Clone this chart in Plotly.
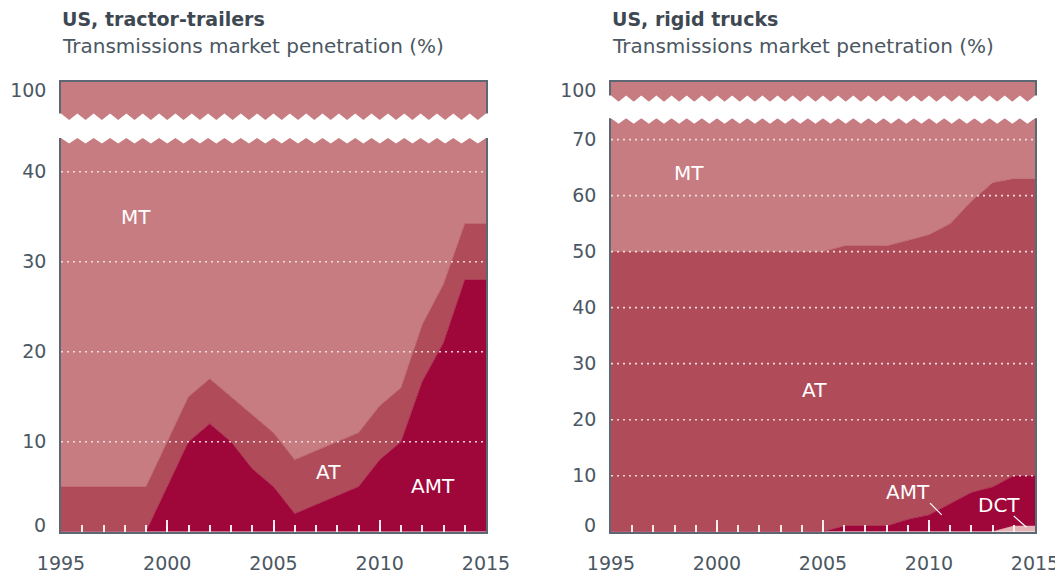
import plotly.graph_objects as go

# ---------------- data ----------------
years = list(range(1995, 2016))

# US, tractor-trailers: market share (%)
tt_amt = [0, 0, 0, 0, 0, 5, 10, 12, 10, 7, 5, 2, 3, 4, 5, 8, 10, 16.7, 21, 28, 28]
tt_at = [5, 5, 5, 5, 5, 5, 5, 5, 5, 6, 6, 6, 6, 6, 6, 6, 6, 6.3, 6.5, 6.2, 6.2]
tt_mt = [95, 95, 95, 95, 95, 90, 85, 83, 85, 87, 89, 92, 91, 90, 89, 86, 84, 77, 72.5, 65.8, 65.8]

# US, rigid trucks: market share (%)
rt_dct = [0] * 19 + [1, 1]
rt_amt = [0] * 11 + [1, 1, 1, 2.2, 3, 5, 7, 8, 9, 9]
rt_at = [50] * 11 + [50, 50, 50, 49.8, 50, 50, 52, 54.3, 53, 53]
rt_mt = [50] * 11 + [49, 49, 49, 48, 47, 45, 41, 37.7, 37, 37]

x_ticks = [1995, 2000, 2005, 2010, 2015]
tt_yticks = [10, 20, 30, 40]
rt_yticks = [10, 20, 30, 40, 50, 60, 70]

titles = ["US, tractor-trailers", "US, rigid trucks"]
subtitle = "Transmissions market penetration (%)"

# ---------------- style ----------------
C_MT = "#C67C80"
C_AT = "#B04B5A"
C_AMT = "#9F063A"
C_DCT = "#E4B3B6"
GRAY = "#5C6873"
TXT = "#4B5762"
TITLE = "#3E4852"
GRID = "rgba(246,226,228,0.95)"
FONT = "DejaVu Sans"

# the page body adds an 8px offset; the figure fills the rest of the window
OFF = 8
W, H = 1063 - OFF, 576 - OFF


def fx(px):
    return (px - OFF) / W


def fy(py):
    return 1 - (py - OFF) / H


fig = go.Figure()


def add_stack(series, xa, ya, grp):
    for name, vals, col in series:
        fig.add_trace(go.Scatter(
            x=years, y=vals, name=name, mode="lines",
            line=dict(width=0.6, color=col), fillcolor=col,
            stackgroup=grp, xaxis=xa, yaxis=ya, showlegend=False,
            hoverinfo="x+y+name"))


tt_series = [("AMT", tt_amt, C_AMT), ("AT", tt_at, C_AT), ("MT", tt_mt, C_MT)]
rt_series = [("DCT", rt_dct, C_DCT), ("AMT", rt_amt, C_AMT), ("AT", rt_at, C_AT), ("MT", rt_mt, C_MT)]

add_stack(tt_series, "x", "y", "a")     # left, lower
add_stack(tt_series, "x2", "y2", "b")   # left, upper
add_stack(rt_series, "x3", "y3", "c")   # right, lower
add_stack(rt_series, "x4", "y4", "d")   # right, upper

L = (61, 486)
R = (611, 1035)
y0_px = 531.7
tt_ppu = 9.0
rt_ppu = 5.601

tt_low_top = 138
tt_up_bot = 120
rt_low_top = 118.3
rt_up_bot = 101.7
top_px = 81.7

tick_font = dict(family=FONT, size=19, color=TXT)


def xaxis_bottom(dom):
    return dict(domain=[fx(dom[0]), fx(dom[1])], range=[1995, 2015], automargin=False,
                showline=True, linecolor=GRAY, linewidth=1.6,
                showgrid=False, zeroline=False,
                tickvals=x_ticks, ticks="inside", ticklen=12, tickwidth=1.6,
                tickcolor="rgba(255,242,242,0.95)",
                minor=dict(dtick=1, tick0=1995, ticks="inside", ticklen=7,
                           tickwidth=1.6, tickcolor="rgba(255,242,242,0.95)", showgrid=False),
                tickfont=tick_font, ticklabelstandoff=14, layer="above traces",
                fixedrange=True)


def xaxis_top(dom):
    return dict(domain=[fx(dom[0]), fx(dom[1])], range=[1995, 2015], side="top",
                automargin=False, showline=True, linecolor=GRAY, linewidth=1.6,
                showgrid=False, zeroline=False, showticklabels=False, ticks="",
                fixedrange=True)


def yaxis_low(rng, dom, tv):
    return dict(domain=dom, range=rng, automargin=False, showline=True, mirror=True,
                linecolor=GRAY, linewidth=1.6, showgrid=False, zeroline=False,
                tickvals=tv, ticks="", tickfont=tick_font, ticklabelstandoff=9,
                layer="above traces", fixedrange=True)


def yaxis_up(rng, dom):
    return dict(domain=dom, range=rng, automargin=False, showline=True, mirror=True,
                linecolor=GRAY, linewidth=1.6, showgrid=False, zeroline=False,
                tickvals=[100], ticktext=["100"], ticks="", tickfont=tick_font,
                ticklabelstandoff=9, ticklabelshift=9, layer="above traces",
                fixedrange=True)


tt_top_val = (y0_px - tt_low_top) / tt_ppu
rt_top_val = (y0_px - rt_low_top) / rt_ppu

fig.update_layout(
    template="none",
    width=W, height=H, autosize=False,
    margin=dict(l=0, r=0, t=0, b=0, pad=0),
    paper_bgcolor="white", plot_bgcolor="white",
    xaxis=dict(xaxis_bottom(L), anchor="y"),
    yaxis=dict(yaxis_low([0, tt_top_val], [fy(y0_px), fy(tt_low_top)], tt_yticks), anchor="x"),
    xaxis2=dict(xaxis_top(L), anchor="y2"),
    yaxis2=dict(yaxis_up([100 - (tt_up_bot - top_px) / tt_ppu, 100], [fy(tt_up_bot), fy(top_px)]), anchor="x2"),
    xaxis3=dict(xaxis_bottom(R), anchor="y3"),
    yaxis3=dict(yaxis_low([0, rt_top_val], [fy(y0_px), fy(rt_low_top)], rt_yticks), anchor="x3"),
    xaxis4=dict(xaxis_top(R), anchor="y4"),
    yaxis4=dict(yaxis_up([100 - (rt_up_bot - top_px) / rt_ppu, 100], [fy(rt_up_bot), fy(top_px)]), anchor="x4"),
    font=dict(family=FONT, color=TXT),
)

shapes = []
# dotted gridlines drawn above the areas
for v in tt_yticks:
    shapes.append(dict(type="line", xref="x domain", yref="y", x0=0, x1=1, y0=v, y1=v,
                       line=dict(color=GRID, width=1.6, dash="2px,4px"), layer="above"))
for v in rt_yticks:
    shapes.append(dict(type="line", xref="x3 domain", yref="y3", x0=0, x1=1, y0=v, y1=v,
                       line=dict(color=GRID, width=1.6, dash="2px,4px"), layer="above"))


def zigzag(dom, high, low, close, n):
    x0, x1 = dom
    w = (x1 - x0) / n
    pts = [(x0 - 2, close), (x0 - 2, high)]
    for i in range(2 * n + 1):
        pts.append((x0 + i * w / 2, high if i % 2 == 0 else low))
    pts.append((x1 + 2, high))
    pts.append((x1 + 2, close))
    path = "M " + " L ".join(f"{fx(a):.5f},{fy(b):.5f}" for a, b in pts) + " Z"
    return dict(type="path", xref="paper", yref="paper", path=path,
                fillcolor="white", line=dict(width=0), layer="above")


# axis-break zigzags
shapes.append(zigzag(L, 113.5, tt_up_bot, tt_up_bot + 2, 26))
shapes.append(zigzag(L, tt_low_top, tt_low_top + 5.5, tt_low_top - 2, 26))
shapes.append(zigzag(R, 95.5, rt_up_bot, rt_up_bot + 2, 28))
shapes.append(zigzag(R, rt_low_top, rt_low_top + 5.5, rt_low_top - 2, 28))

# leader lines for labels
lead = dict(color="white", width=1.2)
shapes.append(dict(type="line", xref="x3", yref="y3", x0=2010.05, y0=5.1, x1=2010.6, y1=3.0, line=lead, layer="above"))
shapes.append(dict(type="line", xref="x3", yref="y3", x0=2014.0, y0=2.8, x1=2014.6, y1=0.8, line=lead, layer="above"))

fig.update_layout(shapes=shapes)

ann = []
lab_font = dict(family=FONT, size=20, color="white")
for txt, x, y, xr, yr in [
    ("MT", 1998.53, 35, "x", "y"),
    ("AT", 2007.6, 6.6, "x", "y"),
    ("AMT", 2012.5, 5.1, "x", "y"),
    ("MT", 1998.7, 64.1, "x3", "y3"),
    ("AT", 2004.6, 25.3, "x3", "y3"),
    ("AMT", 2009.0, 7.1, "x3", "y3"),
    ("DCT", 2013.3, 4.75, "x3", "y3"),
]:
    ann.append(dict(text=txt, x=x, y=y, xref=xr, yref=yr, showarrow=False,
                    font=lab_font, xanchor="center", yanchor="middle"))

# zero labels (sit slightly above the baseline)
for xr, yr in [("x domain", "y"), ("x3 domain", "y3")]:
    ann.append(dict(text="0", x=0, y=0, xref=xr, yref=yr, showarrow=False,
                    xanchor="right", yanchor="middle", xshift=-13, yshift=7, font=tick_font))

# titles
for dom, t in [(L, titles[0]), (R, titles[1])]:
    ann.append(dict(text=f"<b>{t}</b>", x=fx(dom[0] - 1), y=fy(19), xref="paper", yref="paper",
                    showarrow=False, xanchor="left", yanchor="middle",
                    font=dict(family=FONT, size=19, color=TITLE)))
    ann.append(dict(text=subtitle, x=fx(dom[0] - 1), y=fy(46), xref="paper", yref="paper",
                    showarrow=False, xanchor="left", yanchor="middle",
                    font=dict(family=FONT, size=20, color=TXT)))

fig.update_layout(annotations=ann)

fig.write_html("out.html")
